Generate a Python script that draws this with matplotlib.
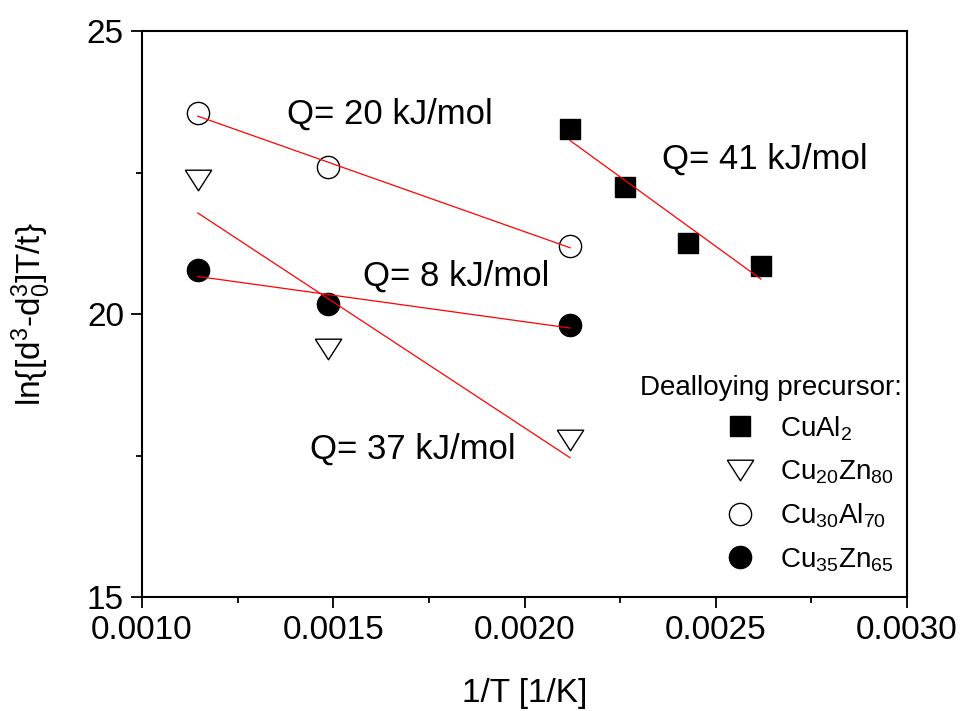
import numpy as np
import matplotlib
matplotlib.use('Agg')
import matplotlib.pyplot as plt
from matplotlib.lines import Line2D

plt.rcParams['font.family'] = ['Liberation Sans', 'DejaVu Sans']
plt.rcParams['mathtext.fontset'] = 'custom'
plt.rcParams['mathtext.rm'] = 'Liberation Sans'
plt.rcParams['mathtext.it'] = 'Liberation Sans:italic'

# data: 1/T [1/K] and ln{[d^3-d0^3]T/t}
x_cual2 = [0.002119, 0.002262, 0.002427, 0.002618]
y_cual2 = [23.27, 22.24, 21.25, 20.84]

x_cu20zn80 = [0.001146, 0.001486, 0.002119]
y_cu20zn80 = [22.36, 19.39, 17.77]

x_cu30al70 = [0.001146, 0.001486, 0.002119]
y_cu30al70 = [23.55, 22.60, 21.20]

x_cu35zn65 = [0.001146, 0.001486, 0.002119]
y_cu35zn65 = [20.77, 20.18, 19.81]

labels = ['CuAl$_\\mathrm{2}$', 'Cu$_\\mathrm{20}$Zn$_\\mathrm{80}$',
          'Cu$_\\mathrm{30}$Al$_\\mathrm{70}$', 'Cu$_\\mathrm{35}$Zn$_\\mathrm{65}$']

# wide down-pointing triangle (closed)
tri = [(-1, 0.78), (1, 0.78), (0, -0.78), (-1, 0.78)]

fig = plt.figure(figsize=(9.64, 7.11), dpi=100)
ax = fig.add_axes([0.1473, 0.1603, 0.7936, 0.7961])

series = [
    (x_cual2, y_cual2, dict(marker='s', ms=14.5, mfc='black', mec='black')),
    (x_cu20zn80, y_cu20zn80, dict(marker=tri, ms=19, mfc='white', mec='black', mew=1.0)),
    (x_cu30al70, y_cu30al70, dict(marker='o', ms=16, mfc='white', mec='black', mew=1.0)),
    (x_cu35zn65, y_cu35zn65, dict(marker='o', ms=16, mfc='black', mec='black')),
]

handles = []
for (xs, ys, st), lab in zip(series, labels):
    xs = np.array(xs)
    ys = np.array(ys)
    # linear fit (Arrhenius)
    k, b = np.polyfit(xs, ys, 1)
    xf = np.array([xs.min(), xs.max()])
    ax.plot(xs, ys, linestyle='none', zorder=3, **st)
    ax.plot(xf, k * xf + b, color='#ff0000', lw=0.9, zorder=4)
    handles.append(Line2D([], [], linestyle='none', label=lab, **st))

# activation energies
ax.text(0.001379, 23.53, 'Q= 20 kJ/mol', fontsize=25, va='center')
ax.text(0.002359, 22.74, 'Q= 41 kJ/mol', fontsize=25, va='center')
ax.text(0.001578, 20.67, 'Q= 8 kJ/mol', fontsize=25, va='center')
ax.text(0.001439, 17.61, 'Q= 37 kJ/mol', fontsize=25, va='center')

ax.set_xlim(0.0010, 0.0030)
ax.set_ylim(15, 25)
ax.set_xticks([0.0010, 0.0015, 0.0020, 0.0025, 0.0030])
ax.set_xticklabels(['0.0010', '0.0015', '0.0020', '0.0025', '0.0030'])
ax.set_xticks(np.arange(0.00125, 0.003, 0.0005), minor=True)
ax.set_yticks([15, 20, 25])
ax.set_yticks([17.5, 22.5], minor=True)
ax.tick_params(which='both', direction='out', width=1.3, labelsize=24, top=False, right=False)
ax.tick_params(which='major', length=8, pad=5)
ax.tick_params(which='minor', length=4.5)
for s in ax.spines.values():
    s.set_linewidth(1.5)

ax.set_xlabel('1/T [1/K]', fontsize=24)
ax.set_ylabel('ln{[d$^\\mathrm{3}$-d$_\\mathrm{0}^\\mathrm{3}$]T/t}', fontsize=24)
ax.xaxis.set_label_coords(0.5, -0.143)
ax.yaxis.set_label_coords(-0.116, 0.5)

ax.text(0.9935, 0.369, 'Dealloying precursor:', transform=ax.transAxes,
        fontsize=20, ha='right', va='center')
ax.legend(handles=handles, loc='upper left', bbox_to_anchor=(0.760, 0.323),
          frameon=False, fontsize=20, handlelength=1.2, handletextpad=0.84,
          labelspacing=0.57, borderpad=0, borderaxespad=0)

fig.savefig('out.png', dpi=100)
